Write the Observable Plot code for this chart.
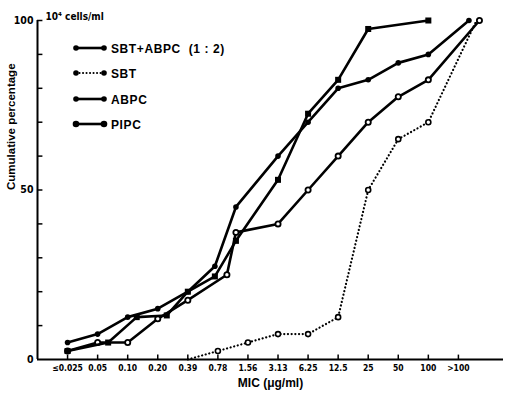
<!DOCTYPE html>
<html>
<head>
<meta charset="utf-8">
<script src="https://cdn.jsdelivr.net/npm/d3@7"></script>
<script src="https://cdn.jsdelivr.net/npm/@observablehq/plot@0.6"></script>
<style>
  html, body { margin: 0; padding: 0; background: #fff; }
  #wrap { position: relative; width: 507px; height: 395px; overflow: hidden; }
  #legend { position: absolute; left: 0; top: 0; }
</style>
</head>
<body>
<div id="wrap"></div>
<script>
// MIC categories (tick labels) — x positions are category indices
const xLabels = ["≤0.025","0.05","0.10","0.20","0.39","0.78","1.56","3.13","6.25","12.5","25","50","100",">100"];
const yMinorTicks = [10,20,30,40,50,60,70,80,90,100];
const yLabelTicks = [0,50,100];

// Series (MIC position as category index, cumulative %)
const sbtAbpcMic = [0,1,2,3,4,4.9,5.6,7,8,9,10,11,12,13.35];
const sbtAbpcPct = [5,7.5,12.5,15,20,27.5,45,60,70,80,82.5,87.5,90,100];

const sbtMic = [4,5,6,7,8,9,10,11,12,13.6];
const sbtPct = [0,2.5,5,7.5,7.5,12.5,50,65,70,100];

const abpcMic = [0,1,2,3,4,5.3,5.6,7,8,9,10,11,12,13.7];
const abpcPct = [2.5,5,5,12,17.5,25,37.5,40,50,60,70,77.5,82.5,100];

const pipcMic = [0,1.35,2.3,3.3,4,4.9,5.6,7,8,9,10,12];
const pipcPct = [2.5,5,12.5,13,20,24.5,35,53,72.5,82.5,97.5,100];

const legendNames = ["SBT+ABPC  (1 : 2)","SBT","ABPC","PIPC"];

const toRows = (mic, pct) => mic.map((m, i) => ({mic: m, pct: pct[i]}));
const sbtAbpc = toRows(sbtAbpcMic, sbtAbpcPct);
const sbt = toRows(sbtMic, sbtPct);
const abpc = toRows(abpcMic, abpcPct);
const pipc = toRows(pipcMic, pipcPct);

const FONT = '"DejaVu Sans Condensed","Liberation Sans",sans-serif';
const SANS = '"Liberation Sans","DejaVu Sans",sans-serif';

const chart = Plot.plot({
  width: 507,
  height: 395,
  marginTop: 20,
  marginBottom: 36,
  marginLeft: 37,
  marginRight: 4,
  style: {fontFamily: FONT, fontSize: "10px", fontWeight: "bold", color: "#000", background: "#fff"},
  x: {domain: [-1, 14.5], axis: null},
  y: {domain: [0, 100], axis: null},
  marks: [
    // axes lines
    Plot.ruleY([0], {stroke: "#000", strokeWidth: 2}),
    Plot.ruleX([-1], {y1: 0, y2: 100, stroke: "#000", strokeWidth: 2}),
    // inward tick marks
    Plot.ruleX(xLabels.map((_, i) => i), {x: d => d, y1: 0, y2: 1.3, stroke: "#000", strokeWidth: 1.5}),
    Plot.ruleY(yMinorTicks, {y: d => d, x1: -1, x2: -0.82, stroke: "#000", strokeWidth: 1.5}),
    // tick labels
    Plot.text(xLabels.map((_, i) => i), {x: d => d, y: 0, text: d => xLabels[d], dy: 9, fontSize: 8.5, fontWeight: "bold", fill: "#000", fontFamily: FONT}),
    Plot.text(yLabelTicks, {x: -1, y: d => d, text: d => String(d), dx: -4, textAnchor: "end", fontSize: 10.5, fontWeight: "bold", fill: "#000"}),
    // axis titles
    Plot.text(["MIC (μg/ml)"], {frameAnchor: "bottom", dy: 27, fontSize: 12, fontWeight: "bold", fill: "#000", fontFamily: SANS}),
    Plot.text(["Cumulative percentage"], {frameAnchor: "left", dx: -26, rotate: -90, fontSize: 11.5, fontWeight: "bold", fill: "#000", fontFamily: SANS}),
    Plot.text(["10⁴ cells/ml"], {frameAnchor: "top-left", dx: 8, dy: -8, textAnchor: "start", fontSize: 10, fontWeight: "bold", fill: "#000"}),
    // series
    Plot.line(sbt, {x: "mic", y: "pct", stroke: "#000", strokeWidth: 2.2, strokeDasharray: "0.1,3.6", strokeLinecap: "round"}),
    Plot.dot(sbt.filter(d => d.pct > 0 && d.pct < 100), {x: "mic", y: "pct", r: 2.5, fill: "#fff", stroke: "#000", strokeWidth: 1.6}),
    Plot.line(abpc, {x: "mic", y: "pct", stroke: "#000", strokeWidth: 2.6}),
    Plot.dot(abpc, {x: "mic", y: "pct", r: 2.6, fill: "#fff", stroke: "#000", strokeWidth: 1.8}),
    Plot.line(pipc, {x: "mic", y: "pct", stroke: "#000", strokeWidth: 2.6}),
    Plot.dot(pipc, {x: "mic", y: "pct", symbol: "square", r: 3.4, fill: "#000"}),
    Plot.line(sbtAbpc, {x: "mic", y: "pct", stroke: "#000", strokeWidth: 2.6}),
    Plot.dot(sbtAbpc, {x: "mic", y: "pct", r: 2.8, fill: "#000"})
  ]
});

const wrap = document.getElementById("wrap");
wrap.appendChild(chart);

// Legend overlay
const lg = d3.select(wrap).append("svg")
  .attr("id", "legend").attr("width", 507).attr("height", 395);
const legendY = [48, 73, 99, 124];
legendNames.forEach((name, i) => {
  const g = lg.append("g").attr("transform", `translate(0,${legendY[i]})`);
  g.append("line").attr("x1", 76).attr("x2", 104).attr("y1", 0).attr("y2", 0)
    .attr("stroke", "#000").attr("stroke-width", i === 1 ? 2 : 2.6)
    .attr("stroke-dasharray", i === 1 ? "0.1,3.4" : null)
    .attr("stroke-linecap", i === 1 ? "round" : "butt");
  [76, 104].forEach(cx => g.append("circle").attr("cx", cx).attr("cy", 0)
    .attr("r", i === 3 ? 3.3 : 2.8).attr("fill", "#000"));
  g.append("text").attr("x", 111).attr("y", 4.5)
    .attr("font-family", SANS).attr("font-weight", "bold").attr("font-size", 12)
    .attr("letter-spacing", "0.6px").attr("fill", "#000")
    .style("white-space", "pre").text(name);
});
</script>
</body>
</html>
